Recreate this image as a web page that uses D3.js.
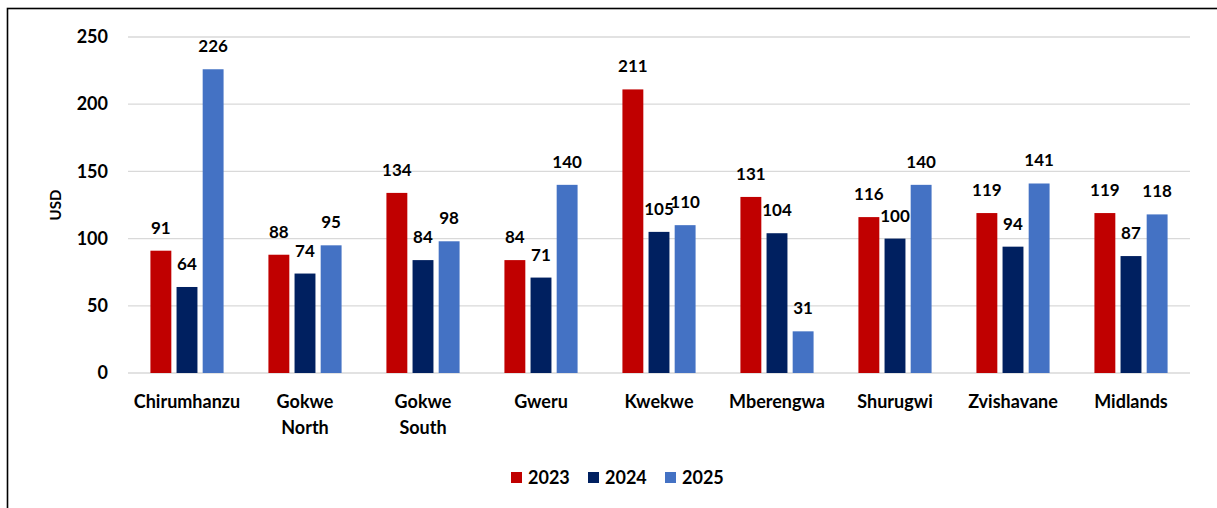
<!DOCTYPE html>
<html>
<head>
<meta charset="utf-8">
<script src="https://cdn.jsdelivr.net/npm/d3@7"></script>
<style>
  body { margin: 0; background: #fff; }
  text { font-family: Lato, "Open Sans", sans-serif; font-weight: bold; fill: #000; }
</style>
</head>
<body>
<div id="chart"></div>
<script>
var fullwidth = 1217, fullheight = 508;

var districts = ["Chirumhanzu", "Gokwe North", "Gokwe South", "Gweru", "Kwekwe", "Mberengwa", "Shurugwi", "Zvishavane", "Midlands"];
var years = ["2023", "2024", "2025"];
var v2023 = [91, 88, 134, 84, 211, 131, 116, 119, 119];
var v2024 = [64, 74, 84, 71, 105, 104, 100, 94, 87];
var v2025 = [226, 95, 98, 140, 110, 31, 140, 141, 118];
var yTicks = [0, 50, 100, 150, 200, 250];
var colors = ["#C00000", "#002060", "#4472C4"];

var series = [v2023, v2024, v2025];

var svg = d3.select("#chart").append("svg")
    .attr("width", fullwidth)
    .attr("height", fullheight);

// outer frame (cut off on right and bottom like the original)
svg.append("rect")
    .attr("x", 7.5).attr("y", 8.5)
    .attr("width", 1300).attr("height", 600)
    .attr("fill", "none")
    .attr("stroke", "#000")
    .attr("stroke-width", 1.6);

var x0 = d3.scaleBand()
    .domain(districts)
    .range([128, 1190])
    .paddingInner(0.38)
    .paddingOuter(0.19);

var x1 = d3.scaleBand()
    .domain(years)
    .range([0, x0.bandwidth()])
    .paddingInner(0.2);

var y = d3.scaleLinear()
    .domain([0, 250])
    .range([373, 37]);

// gridlines
svg.append("g").selectAll("line")
    .data(yTicks)
    .enter().append("line")
    .attr("x1", 128).attr("x2", 1190)
    .attr("y1", function(d) { return y(d); })
    .attr("y2", function(d) { return y(d); })
    .attr("stroke", "#d9d9d9")
    .attr("stroke-width", 1.3);

// y tick labels
var yAxis = d3.axisLeft(y).tickValues(yTicks).tickSize(0).tickPadding(0);
var ya = svg.append("g")
    .attr("transform", "translate(108,0)")
    .call(yAxis);
ya.select(".domain").remove();
ya.selectAll("text").style("font-size", "18px").attr("font-family", null);

// y title
svg.append("text")
    .attr("transform", "translate(61,205) rotate(-90)")
    .attr("text-anchor", "middle")
    .style("font-size", "15px")
    .text("USD");

// bars
var groups = svg.append("g").selectAll("g")
    .data(districts)
    .enter().append("g")
    .attr("transform", function(d) { return "translate(" + x0(d) + ",0)"; });

groups.selectAll("rect")
    .data(function(d, i) { return years.map(function(yr, j) { return {year: yr, value: series[j][i], j: j}; }); })
    .enter().append("rect")
    .attr("x", function(d) { return x1(d.year); })
    .attr("width", x1.bandwidth())
    .attr("y", function(d) { return y(d.value); })
    .attr("height", function(d) { return y(0) - y(d.value); })
    .attr("fill", function(d) { return colors[d.j]; });

groups.selectAll("text.lbl")
    .data(function(d, i) { return years.map(function(yr, j) { return {year: yr, value: series[j][i], j: j}; }); })
    .enter().append("text")
    .attr("class", "lbl")
    .attr("x", function(d) { return x1(d.year) + x1.bandwidth() / 2; })
    .attr("y", function(d) { return y(d.value) - 17; })
    .attr("text-anchor", "middle")
    .style("font-size", "17px")
    .text(function(d) { return d.value; });

// x category labels (wrapped)
var xa = svg.append("g");
districts.forEach(function(d) {
    var words = d.split(" ");
    var t = xa.append("text")
        .attr("x", x0(d) + x0.bandwidth() / 2)
        .attr("y", 408)
        .attr("text-anchor", "middle")
        .style("font-size", "18px");
    words.forEach(function(w, k) {
        t.append("tspan")
            .attr("x", x0(d) + x0.bandwidth() / 2)
            .attr("dy", k === 0 ? 0 : 26)
            .text(w);
    });
});

// legend
var legendX = [511, 588, 665];
var legend = svg.append("g").selectAll("g")
    .data(years)
    .enter().append("g")
    .attr("transform", function(d, i) { return "translate(" + legendX[i] + ",472)"; });
legend.append("rect")
    .attr("width", 11).attr("height", 11)
    .attr("fill", function(d, i) { return colors[i]; });
legend.append("text")
    .attr("x", 17).attr("y", 12)
    .style("font-size", "18px")
    .text(function(d) { return d; });
</script>
</body>
</html>
